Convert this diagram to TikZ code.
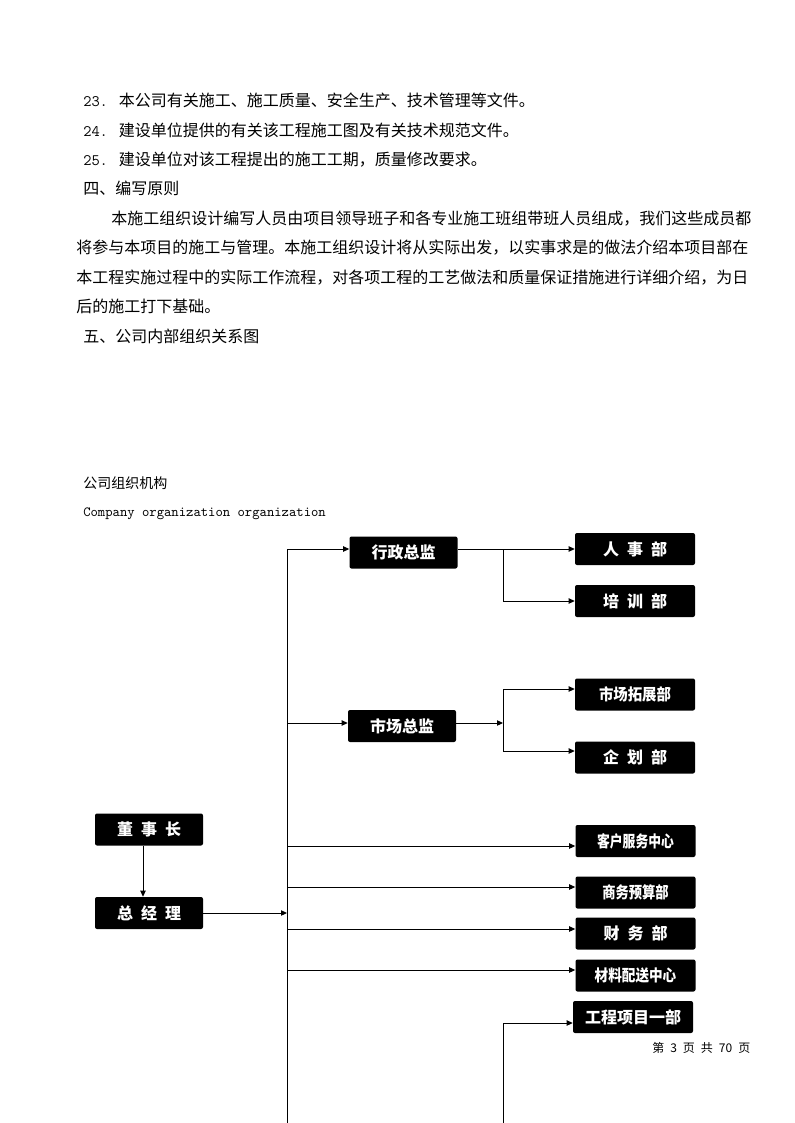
\documentclass[tikz,border=0pt]{standalone}
\usepackage{fontspec}
\usepackage{graphicx}
\usetikzlibrary{arrows.meta}
\newfontfamily\cjk{Noto Sans CJK SC}
\XeTeXlinebreaklocale "zh"
\XeTeXlinebreakskip=0pt plus 1pt

\begin{document}
\begin{tikzpicture}[
    x=0.75pt, y=-0.75pt,
    txt/.style={
      anchor=base west,
      inner sep=0pt,
      font=\cjk\fontsize{12}{22}\selectfont
    },
    paraline/.style={txt, text width=524pt, align=justify},
    small/.style={
      anchor=base west,
      inner sep=0pt,
      font=\cjk\fontsize{10.5}{12}\selectfont
    },
    dept/.style={
      fill=black,
      text=white,
      rounded corners=1.5pt,
      inner sep=0pt,
      minimum width=90pt,
      minimum height=24pt,
      font=\cjk\bfseries\fontsize{12}{14}\selectfont
    },
    head/.style={dept, minimum width=81pt},
    arrow/.style={-{Triangle[length=4.5pt,width=4pt]}, line width=0.75pt},
    link/.style={line width=0.75pt}
  ]
    \fill[white] (0,0) rectangle (794,1123);
    \useasboundingbox (0,0) rectangle (794,1123);

    % text above the chart
    \node[txt] (item23) at (83,107)
      {\texttt{23. }本公司有关施工、施工质量、安全生产、技术管理等文件。};
    \node[txt] (item24) at (83,137)
      {\texttt{24. }建设单位提供的有关该工程施工图及有关技术规范文件。};
    \node[txt] (item25) at (83,166)
      {\texttt{25. }建设单位对该工程提出的施工工期，质量修改要求。};
    \node[txt] (rules) at (83,195) {四、编写原则};
    \node[paraline] (para1) at (76,224)
      {\parfillskip=0pt\hspace*{2.2em}本施工组织设计编写人员由项目领导班子和各专业施工班组带班人员组成，我们这些成员都};
    \node[paraline] (para2) at (76,253)
      {\parfillskip=0pt 将参与本项目的施工与管理。本施工组织设计将从实际出发，以实事求是的做法介绍本项目部在};
    \node[paraline] (para3) at (76,283)
      {\parfillskip=0pt 本工程实施过程中的实际工作流程，对各项工程的工艺做法和质量保证措施进行详细介绍，为日};
    \node[txt] (para4) at (76,312) {后的施工打下基础。};
    \node[txt] (chart) at (83,342) {五、公司内部组织关系图};

    \node[small] (title) at (83,488) {公司组织机构};
    \node[small] (subtitle) at (83,516)
      {\texttt{Company organization organization}};

    % boxes
    \node[head] (admin) at (403.5,552.5) {行政总监};
    \node[dept] (hr) at (635,549) {人\enspace 事\enspace 部};
    \node[dept] (train) at (635,601) {培\enspace 训\enspace 部};

    \node[head] (market) at (402,726) {市场总监};
    \node[dept] (expand) at (635,694.5) {\scalebox{0.9}[1]{市场拓展部}};
    \node[dept] (plan) at (635,757.5) {企\enspace 划\enspace 部};

    \node[head] (chair) at (149,829.5) {董\enspace 事\enspace 长};
    \node[head] (gm) at (149,913) {总\enspace 经\enspace 理};

    \node[dept] (service) at (635.5,841) {\scalebox{0.8}[1]{客户服务中心}};
    \node[dept] (budget) at (635.5,892.5) {\scalebox{0.83}[1]{商务预算部}};
    \node[dept] (finance) at (635.5,933.5) {财\enspace 务\enspace 部};
    \node[dept] (supply) at (635.5,975.5) {\scalebox{0.85}[1]{材料配送中心}};
    \node[dept] (project) at (633,1017) {工程项目一部};

    \node[anchor=base west, inner sep=0pt, font=\cjk\fontsize{9}{10}\selectfont]
      (pageno) at (652,1052)
      {第\enspace 3\enspace 页\enspace 共\enspace 70\enspace 页};

    % connectors
    \coordinate (trunktop) at (287,549);
    \coordinate (trunkend) at (287,1123);
    \draw[link] (trunktop) -- (trunkend);

    \draw[arrow] ([xshift=-4.5pt]chair.south) -- ([xshift=-4.5pt]gm.north);
    \draw[arrow] (gm.east) -- (gm.east -| trunktop);

    \coordinate (fork1) at (503,549);
    \draw[arrow] (trunktop) -- (trunktop -| admin.west);
    \draw[link] (admin.east |- fork1) -- (fork1);
    \draw[arrow] (fork1) -- (hr.west);
    \draw[arrow] (fork1) |- (train.west);

    \coordinate (fork2) at (503,723);
    \coordinate (fork2a) at (503,689);
    \coordinate (fork2b) at (503,751);
    \draw[arrow] (fork2 -| trunktop) -- (fork2 -| market.west);
    \draw[arrow] (fork2 -| market.east) -- (fork2);
    \draw[link] (fork2a) -- (fork2b);
    \draw[arrow] (fork2a) -- (fork2a -| expand.west);
    \draw[arrow] (fork2b) -- (fork2b -| plan.west);

    \foreach \y/\target in {846/service, 887/budget, 929/finance, 970/supply} {
      \coordinate (tap) at (287,\y);
      \draw[arrow] (tap) -- (tap -| \target.west);
    }

    \coordinate (fork3) at (503,1023);
    \coordinate (fork3end) at (503,1123);
    \draw[link] (fork3end) -- (fork3);
    \draw[arrow] (fork3) -- (fork3 -| project.west);
  \end{tikzpicture}
\end{document}
